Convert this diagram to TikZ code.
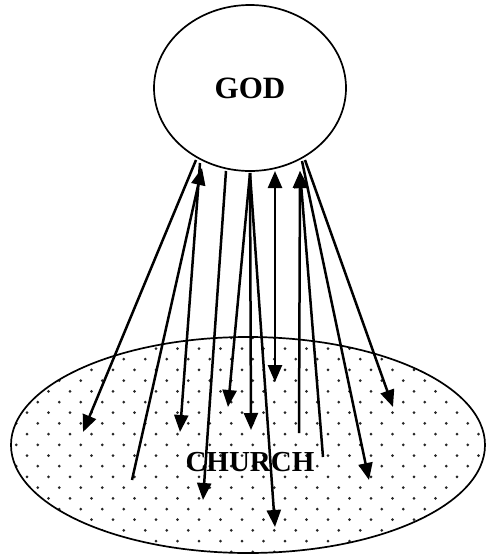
\documentclass[tikz,border=0pt]{standalone}
\usepackage{fontspec}
\setmainfont{Liberation Serif}
\usetikzlibrary{shapes.geometric,arrows.meta}
\begin{document}
\begin{tikzpicture}[x=1pt,y=-1pt,
  ln/.style={line width=2.5pt},
  arr/.style={ln, -{Triangle[length=17pt,width=14pt]}},
  dbl/.style={ln, {Triangle[length=17pt,width=14pt]}-{Triangle[length=17pt,width=14pt]}},
  oval/.style={draw, ellipse, line width=1.7pt, inner sep=0pt},
  lbl/.style={font=\bfseries\fontsize{31}{31}\selectfont}]
\useasboundingbox (0,0) rectangle (486,555);
\node[oval, minimum width=192pt, minimum height=166pt] (god) at (250,88) {};
\node[lbl] (godtext) at (250,88) {GOD};
\begin{scope}
  \clip (248,445) ellipse [x radius=237pt, y radius=108pt];
  \foreach \i in {0,...,22}{\foreach \j in {-14,...,10}{\fill[black!85] ({285+\j*21.5+mod(\i,2)*10.75},{327.1+\i*10.7}) circle (1.5pt);}}
\end{scope}
\node[oval, minimum width=474pt, minimum height=216pt] (church) at (248,445) {};
\node[lbl, font=\bfseries\fontsize{29}{29}\selectfont] (churchtext) at (250,462) {CHURCH};
% endpoints near GOD
\coordinate (g1) at (196,160);
\coordinate (g2) at (202,168);
\coordinate (g3) at (200,163);
\coordinate (g4) at (226,171);
\coordinate (g5) at (250,173);
\coordinate (g8) at (275,171);
\coordinate (g9) at (300,171);
\coordinate (g11) at (302,161);
\coordinate (g12) at (305,160);
% endpoints in CHURCH
\coordinate (c1) at (83,432);
\coordinate (c2) at (132,480);
\coordinate (c3) at (180,432);
\coordinate (c4) at (203,500);
\coordinate (c5) at (228,407);
\coordinate (c6) at (251,430);
\coordinate (c7) at (275,527);
\coordinate (c8) at (275,382);
\coordinate (c9) at (299,433);
\coordinate (c10) at (323,457);
\coordinate (c11) at (369,480);
\coordinate (c12) at (393,407);
\draw[arr] (g1) -- (c1);
\draw[arr] (c2) -- (g2);
\draw[arr] (g3) -- (c3);
\draw[arr] (g4) -- (c4);
\draw[arr] (g5) -- (c5);
\draw[arr] (g5) -- (c6);
\draw[arr] (g5) -- (c7);
\draw[dbl] (g8) -- (c8);
\draw[arr] (c9) -- (g9);
\draw[arr] (c10) -- (g9);
\draw[arr] (g11) -- (c11);
\draw[arr] (g12) -- (c12);
\end{tikzpicture}
\end{document}
